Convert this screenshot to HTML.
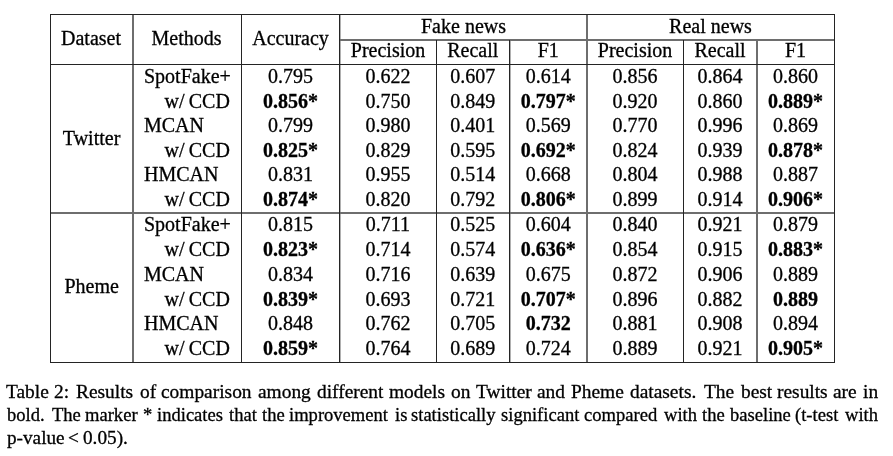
<!DOCTYPE html>
<html><head><meta charset="utf-8"><style>
html,body{margin:0;padding:0;background:#fff;}
body{width:893px;height:456px;position:relative;overflow:hidden;font-family:"Liberation Serif",serif;color:#000;}
#w{position:absolute;left:0;top:0;width:893px;height:456px;will-change:transform;-webkit-text-stroke:0.3px #000;}
.t{position:absolute;font-size:20px;line-height:20px;white-space:nowrap;}
.l{position:absolute;}
.cw{position:absolute;font-size:18.75px;line-height:20px;white-space:nowrap;transform-origin:0 0;}
</style></head><body><div id="w">
<div class="l" style="left:340px;top:14px;width:1px;height:349px;background:#b0b0b0"></div>
<div class="l" style="left:510px;top:40px;width:1px;height:323px;background:#b0b0b0"></div>
<div class="l" style="left:340px;top:39px;width:495px;height:2px;background:#6e6e6e"></div>
<div class="l" style="left:50px;top:212px;width:785px;height:2px;background:#6e6e6e"></div>
<div class="l" style="left:132px;top:14px;width:2px;height:349px;background:#6e6e6e"></div>
<div class="l" style="left:586px;top:14px;width:2px;height:349px;background:#6e6e6e"></div>
<div class="l" style="left:756px;top:40px;width:2px;height:323px;background:#6e6e6e"></div>
<div class="l" style="left:50px;top:14px;width:1px;height:349px;background:#242424"></div>
<div class="l" style="left:241px;top:14px;width:1px;height:349px;background:#242424"></div>
<div class="l" style="left:339px;top:14px;width:1px;height:349px;background:#242424"></div>
<div class="l" style="left:436px;top:40px;width:1px;height:323px;background:#242424"></div>
<div class="l" style="left:509px;top:40px;width:1px;height:323px;background:#242424"></div>
<div class="l" style="left:683px;top:40px;width:1px;height:323px;background:#242424"></div>
<div class="l" style="left:834px;top:14px;width:1px;height:349px;background:#242424"></div>
<div class="l" style="left:50px;top:14px;width:785px;height:1px;background:#242424"></div>
<div class="l" style="left:50px;top:64px;width:785px;height:1px;background:#242424"></div>
<div class="l" style="left:50px;top:362px;width:785px;height:1px;background:#242424"></div>
<div class="t" style="left:50.00px;top:28.25px;width:82px;text-align:center;">Dataset</div>
<div class="t" style="left:132.00px;top:28.25px;width:109px;text-align:center;">Methods</div>
<div class="t" style="left:241.00px;top:28.25px;width:99px;text-align:center;">Accuracy</div>
<div class="t" style="left:340.00px;top:16.05px;width:247px;text-align:center;">Fake news</div>
<div class="t" style="left:587.00px;top:16.05px;width:247px;text-align:center;">Real news</div>
<div class="t" style="left:340.00px;top:39.75px;width:96px;text-align:center;">Precision</div>
<div class="t" style="left:436.00px;top:39.75px;width:73.5px;text-align:center;">Recall</div>
<div class="t" style="left:509.50px;top:39.75px;width:77.5px;text-align:center;">F1</div>
<div class="t" style="left:587.00px;top:39.75px;width:96px;text-align:center;">Precision</div>
<div class="t" style="left:683.00px;top:39.75px;width:74px;text-align:center;">Recall</div>
<div class="t" style="left:757.00px;top:39.75px;width:77px;text-align:center;">F1</div>
<div class="t" style="left:144.00px;top:66.00px;width:96px;text-align:left;">SpotFake+</div>
<div class="t" style="left:241.00px;top:66.00px;width:99px;text-align:center;">0.795</div>
<div class="t" style="left:340.00px;top:66.00px;width:96px;text-align:center;">0.622</div>
<div class="t" style="left:436.00px;top:66.00px;width:73.5px;text-align:center;">0.607</div>
<div class="t" style="left:509.50px;top:66.00px;width:77.5px;text-align:center;">0.614</div>
<div class="t" style="left:587.00px;top:66.00px;width:96px;text-align:center;">0.856</div>
<div class="t" style="left:683.00px;top:66.00px;width:74px;text-align:center;">0.864</div>
<div class="t" style="left:757.00px;top:66.00px;width:77px;text-align:center;">0.860</div>
<div class="t" style="left:144.00px;top:91.00px;width:85.9px;text-align:right;word-spacing:-0.7px;">w/ CCD</div>
<div class="t" style="left:241.00px;top:91.00px;width:99px;text-align:center;font-weight:bold;">0.856*</div>
<div class="t" style="left:340.00px;top:91.00px;width:96px;text-align:center;">0.750</div>
<div class="t" style="left:436.00px;top:91.00px;width:73.5px;text-align:center;">0.849</div>
<div class="t" style="left:509.50px;top:91.00px;width:77.5px;text-align:center;font-weight:bold;">0.797*</div>
<div class="t" style="left:587.00px;top:91.00px;width:96px;text-align:center;">0.920</div>
<div class="t" style="left:683.00px;top:91.00px;width:74px;text-align:center;">0.860</div>
<div class="t" style="left:757.00px;top:91.00px;width:77px;text-align:center;font-weight:bold;">0.889*</div>
<div class="t" style="left:144.00px;top:115.00px;width:96px;text-align:left;">MCAN</div>
<div class="t" style="left:241.00px;top:115.00px;width:99px;text-align:center;">0.799</div>
<div class="t" style="left:340.00px;top:115.00px;width:96px;text-align:center;">0.980</div>
<div class="t" style="left:436.00px;top:115.00px;width:73.5px;text-align:center;">0.401</div>
<div class="t" style="left:509.50px;top:115.00px;width:77.5px;text-align:center;">0.569</div>
<div class="t" style="left:587.00px;top:115.00px;width:96px;text-align:center;">0.770</div>
<div class="t" style="left:683.00px;top:115.00px;width:74px;text-align:center;">0.996</div>
<div class="t" style="left:757.00px;top:115.00px;width:77px;text-align:center;">0.869</div>
<div class="t" style="left:144.00px;top:140.00px;width:85.9px;text-align:right;word-spacing:-0.7px;">w/ CCD</div>
<div class="t" style="left:241.00px;top:140.00px;width:99px;text-align:center;font-weight:bold;">0.825*</div>
<div class="t" style="left:340.00px;top:140.00px;width:96px;text-align:center;">0.829</div>
<div class="t" style="left:436.00px;top:140.00px;width:73.5px;text-align:center;">0.595</div>
<div class="t" style="left:509.50px;top:140.00px;width:77.5px;text-align:center;font-weight:bold;">0.692*</div>
<div class="t" style="left:587.00px;top:140.00px;width:96px;text-align:center;">0.824</div>
<div class="t" style="left:683.00px;top:140.00px;width:74px;text-align:center;">0.939</div>
<div class="t" style="left:757.00px;top:140.00px;width:77px;text-align:center;font-weight:bold;">0.878*</div>
<div class="t" style="left:144.00px;top:164.00px;width:96px;text-align:left;">HMCAN</div>
<div class="t" style="left:241.00px;top:164.00px;width:99px;text-align:center;">0.831</div>
<div class="t" style="left:340.00px;top:164.00px;width:96px;text-align:center;">0.955</div>
<div class="t" style="left:436.00px;top:164.00px;width:73.5px;text-align:center;">0.514</div>
<div class="t" style="left:509.50px;top:164.00px;width:77.5px;text-align:center;">0.668</div>
<div class="t" style="left:587.00px;top:164.00px;width:96px;text-align:center;">0.804</div>
<div class="t" style="left:683.00px;top:164.00px;width:74px;text-align:center;">0.988</div>
<div class="t" style="left:757.00px;top:164.00px;width:77px;text-align:center;">0.887</div>
<div class="t" style="left:144.00px;top:189.00px;width:85.9px;text-align:right;word-spacing:-0.7px;">w/ CCD</div>
<div class="t" style="left:241.00px;top:189.00px;width:99px;text-align:center;font-weight:bold;">0.874*</div>
<div class="t" style="left:340.00px;top:189.00px;width:96px;text-align:center;">0.820</div>
<div class="t" style="left:436.00px;top:189.00px;width:73.5px;text-align:center;">0.792</div>
<div class="t" style="left:509.50px;top:189.00px;width:77.5px;text-align:center;font-weight:bold;">0.806*</div>
<div class="t" style="left:587.00px;top:189.00px;width:96px;text-align:center;">0.899</div>
<div class="t" style="left:683.00px;top:189.00px;width:74px;text-align:center;">0.914</div>
<div class="t" style="left:757.00px;top:189.00px;width:77px;text-align:center;font-weight:bold;">0.906*</div>
<div class="t" style="left:144.00px;top:214.00px;width:96px;text-align:left;">SpotFake+</div>
<div class="t" style="left:241.00px;top:214.00px;width:99px;text-align:center;">0.815</div>
<div class="t" style="left:340.00px;top:214.00px;width:96px;text-align:center;">0.711</div>
<div class="t" style="left:436.00px;top:214.00px;width:73.5px;text-align:center;">0.525</div>
<div class="t" style="left:509.50px;top:214.00px;width:77.5px;text-align:center;">0.604</div>
<div class="t" style="left:587.00px;top:214.00px;width:96px;text-align:center;">0.840</div>
<div class="t" style="left:683.00px;top:214.00px;width:74px;text-align:center;">0.921</div>
<div class="t" style="left:757.00px;top:214.00px;width:77px;text-align:center;">0.879</div>
<div class="t" style="left:144.00px;top:239.00px;width:85.9px;text-align:right;word-spacing:-0.7px;">w/ CCD</div>
<div class="t" style="left:241.00px;top:239.00px;width:99px;text-align:center;font-weight:bold;">0.823*</div>
<div class="t" style="left:340.00px;top:239.00px;width:96px;text-align:center;">0.714</div>
<div class="t" style="left:436.00px;top:239.00px;width:73.5px;text-align:center;">0.574</div>
<div class="t" style="left:509.50px;top:239.00px;width:77.5px;text-align:center;font-weight:bold;">0.636*</div>
<div class="t" style="left:587.00px;top:239.00px;width:96px;text-align:center;">0.854</div>
<div class="t" style="left:683.00px;top:239.00px;width:74px;text-align:center;">0.915</div>
<div class="t" style="left:757.00px;top:239.00px;width:77px;text-align:center;font-weight:bold;">0.883*</div>
<div class="t" style="left:144.00px;top:264.00px;width:96px;text-align:left;">MCAN</div>
<div class="t" style="left:241.00px;top:264.00px;width:99px;text-align:center;">0.834</div>
<div class="t" style="left:340.00px;top:264.00px;width:96px;text-align:center;">0.716</div>
<div class="t" style="left:436.00px;top:264.00px;width:73.5px;text-align:center;">0.639</div>
<div class="t" style="left:509.50px;top:264.00px;width:77.5px;text-align:center;">0.675</div>
<div class="t" style="left:587.00px;top:264.00px;width:96px;text-align:center;">0.872</div>
<div class="t" style="left:683.00px;top:264.00px;width:74px;text-align:center;">0.906</div>
<div class="t" style="left:757.00px;top:264.00px;width:77px;text-align:center;">0.889</div>
<div class="t" style="left:144.00px;top:289.00px;width:85.9px;text-align:right;word-spacing:-0.7px;">w/ CCD</div>
<div class="t" style="left:241.00px;top:289.00px;width:99px;text-align:center;font-weight:bold;">0.839*</div>
<div class="t" style="left:340.00px;top:289.00px;width:96px;text-align:center;">0.693</div>
<div class="t" style="left:436.00px;top:289.00px;width:73.5px;text-align:center;">0.721</div>
<div class="t" style="left:509.50px;top:289.00px;width:77.5px;text-align:center;font-weight:bold;">0.707*</div>
<div class="t" style="left:587.00px;top:289.00px;width:96px;text-align:center;">0.896</div>
<div class="t" style="left:683.00px;top:289.00px;width:74px;text-align:center;">0.882</div>
<div class="t" style="left:757.00px;top:289.00px;width:77px;text-align:center;font-weight:bold;">0.889</div>
<div class="t" style="left:144.00px;top:313.00px;width:96px;text-align:left;">HMCAN</div>
<div class="t" style="left:241.00px;top:313.00px;width:99px;text-align:center;">0.848</div>
<div class="t" style="left:340.00px;top:313.00px;width:96px;text-align:center;">0.762</div>
<div class="t" style="left:436.00px;top:313.00px;width:73.5px;text-align:center;">0.705</div>
<div class="t" style="left:509.50px;top:313.00px;width:77.5px;text-align:center;font-weight:bold;">0.732</div>
<div class="t" style="left:587.00px;top:313.00px;width:96px;text-align:center;">0.881</div>
<div class="t" style="left:683.00px;top:313.00px;width:74px;text-align:center;">0.908</div>
<div class="t" style="left:757.00px;top:313.00px;width:77px;text-align:center;">0.894</div>
<div class="t" style="left:144.00px;top:338.00px;width:85.9px;text-align:right;word-spacing:-0.7px;">w/ CCD</div>
<div class="t" style="left:241.00px;top:338.00px;width:99px;text-align:center;font-weight:bold;">0.859*</div>
<div class="t" style="left:340.00px;top:338.00px;width:96px;text-align:center;">0.764</div>
<div class="t" style="left:436.00px;top:338.00px;width:73.5px;text-align:center;">0.689</div>
<div class="t" style="left:509.50px;top:338.00px;width:77.5px;text-align:center;">0.724</div>
<div class="t" style="left:587.00px;top:338.00px;width:96px;text-align:center;">0.889</div>
<div class="t" style="left:683.00px;top:338.00px;width:74px;text-align:center;">0.921</div>
<div class="t" style="left:757.00px;top:338.00px;width:77px;text-align:center;font-weight:bold;">0.905*</div>
<div class="t" style="left:50.60px;top:128.15px;width:82px;text-align:center;">Twitter</div>
<div class="t" style="left:50.60px;top:275.85px;width:82px;text-align:center;">Pheme</div>
<span class="cw" style="left:6.35px;top:382.20px;transform:scaleX(1.035);">Table</span>
<span class="cw" style="left:53.75px;top:382.20px;transform:scaleX(1.035);">2:</span>
<span class="cw" style="left:76.44px;top:382.20px;transform:scaleX(1.035);">Results</span>
<span class="cw" style="left:140.16px;top:382.20px;transform:scaleX(1.035);">of</span>
<span class="cw" style="left:161.16px;top:382.20px;transform:scaleX(1.035);">comparison</span>
<span class="cw" style="left:257.72px;top:382.20px;transform:scaleX(1.035);">among</span>
<span class="cw" style="left:316.50px;top:382.20px;transform:scaleX(1.035);">different</span>
<span class="cw" style="left:388.79px;top:382.20px;transform:scaleX(1.035);">models</span>
<span class="cw" style="left:450.66px;top:382.20px;transform:scaleX(1.035);">on</span>
<span class="cw" style="left:475.75px;top:382.20px;transform:scaleX(1.035);">Twitter</span>
<span class="cw" style="left:537.02px;top:382.20px;transform:scaleX(1.035);">and</span>
<span class="cw" style="left:570.74px;top:382.20px;transform:scaleX(1.035);">Pheme</span>
<span class="cw" style="left:630.10px;top:382.20px;transform:scaleX(1.035);">datasets.</span>
<span class="cw" style="left:703.55px;top:382.20px;transform:scaleX(1.035);">The</span>
<span class="cw" style="left:740.90px;top:382.20px;transform:scaleX(1.035);">best</span>
<span class="cw" style="left:777.01px;top:382.20px;transform:scaleX(1.035);">results</span>
<span class="cw" style="left:833.02px;top:382.20px;transform:scaleX(1.035);">are</span>
<span class="cw" style="left:862.69px;top:382.20px;transform:scaleX(1.035);">in</span>
<span class="cw" style="left:7.10px;top:404.80px;transform:scaleX(0.99);">bold.</span>
<span class="cw" style="left:51.76px;top:404.80px;transform:scaleX(0.99);">The</span>
<span class="cw" style="left:85.31px;top:404.80px;transform:scaleX(0.99);">marker</span>
<span class="cw" style="left:142.59px;top:404.80px;transform:scaleX(0.99);">*</span>
<span class="cw" style="left:157.31px;top:404.80px;transform:scaleX(0.99);">indicates</span>
<span class="cw" style="left:228.92px;top:404.80px;transform:scaleX(0.99);">that</span>
<span class="cw" style="left:262.42px;top:404.80px;transform:scaleX(0.99);">the</span>
<span class="cw" style="left:289.31px;top:404.80px;transform:scaleX(0.99);">improvement</span>
<span class="cw" style="left:394.91px;top:404.80px;transform:scaleX(0.99);">is</span>
<span class="cw" style="left:410.94px;top:404.80px;transform:scaleX(0.99);">statistically</span>
<span class="cw" style="left:501.34px;top:404.80px;transform:scaleX(0.99);">significant</span>
<span class="cw" style="left:584.19px;top:404.80px;transform:scaleX(0.99);">compared</span>
<span class="cw" style="left:664.38px;top:404.80px;transform:scaleX(0.99);">with</span>
<span class="cw" style="left:702.12px;top:404.80px;transform:scaleX(0.99);">the</span>
<span class="cw" style="left:730.40px;top:404.80px;transform:scaleX(0.99);">baseline</span>
<span class="cw" style="left:795.18px;top:404.80px;transform:scaleX(0.99);">(t-test</span>
<span class="cw" style="left:844.58px;top:404.80px;transform:scaleX(0.99);">with</span>
<span class="cw" style="left:6.79px;top:428.30px;transform:scaleX(1.025);">p-value</span>
<span class="cw" style="left:67.54px;top:428.30px;transform:scaleX(1.025);">&lt;</span>
<span class="cw" style="left:83.27px;top:428.30px;transform:scaleX(1.025);">0.05).</span>
</div></body></html>
